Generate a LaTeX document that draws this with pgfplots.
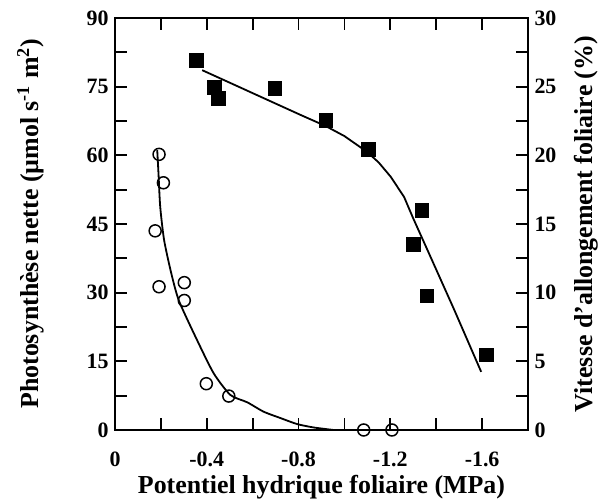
\documentclass[border=0pt]{standalone}
\usepackage{pgfplots}
\pgfplotsset{compat=1.18}
\usepackage{fontspec}
\setmainfont{Liberation Serif}
\usetikzlibrary{calc}
\begin{document}
\begin{tikzpicture}
\pgfplotsset{
 base/.style={scale only axis, width=413bp, height=412bp,
  xmin=-1.8, xmax=0, x dir=reverse,
  axis line style={line width=2.2bp},
  every tick/.style={line width=1.8bp, black},
  major tick length=12bp, minor tick length=12bp, tick align=inside,
  ticklabel style={font=\fontsize{22}{26}\selectfont\bfseries},
  label style={font=\fontsize{26}{30}\selectfont\bfseries},
  clip=false}
}
\begin{axis}[base,
  ymin=0, ymax=90,
  ytick={0,15,30,45,60,75,90}, yticklabels={0,15,30,45,60,75,90},
  minor ytick={7.5,22.5,37.5,52.5,67.5,82.5},
  xtick={0,-0.4,-0.8,-1.2,-1.6}, xticklabels={0,-0.4,-0.8,-1.2,-1.6},
  minor xtick={-0.2,-0.6,-1.0,-1.4},
  ytick pos=left, xtick pos=both,
  xticklabel style={anchor=center, yshift=-29bp},
  yticklabel style={xshift=-3bp},
  xlabel={Potentiel hydrique foliaire (MPa)},
  xlabel style={at={(axis description cs:0.5,-0.14)}, anchor=center},
  ylabel={Photosynthèse nette (µmol s\textsuperscript{-1} m\textsuperscript{2})},
  ylabel style={at={(axis description cs:-0.205,0.5)}, anchor=center, rotate=0},
]
\coordinate (sw) at (rel axis cs:0,0);
\coordinate (ne) at (rel axis cs:1,1);
\addplot[black, line width=1.8bp, mark=none] coordinates {
(-0.38,78.6) (-0.81,68.8) (-0.918,66.4) (-1.0,64.2) (-1.10,60.7) (-1.15,58.4) (-1.202,55.3) (-1.26,50.9) (-1.30,46.2) (-1.362,39.3) (-1.479,26.2) (-1.596,12.7)};
\addplot[only marks, mark=square*, mark size=6.7bp, black] coordinates {
(-0.354,80.8) (-0.433,74.9) (-0.450,72.5) (-0.695,74.7) (-0.918,67.7) (-1.103,61.3) (-1.338,48.0) (-1.30,40.6) (-1.358,29.3) (-1.617,16.5)};
\end{axis}
\begin{axis}[base,
  ymin=0, ymax=30,
  axis x line=none, axis y line*=right,
  ytick={0,5,10,15,20,25,30}, yticklabels={0,5,10,15,20,25,30},
  minor ytick={2.5,7.5,12.5,17.5,22.5,27.5},
  ytick pos=right,
  yticklabel style={xshift=3bp},
  ylabel={Vitesse d'allongement foliaire (\%)},
  ylabel style={at={(axis description cs:1.14,0.5)}, anchor=center, rotate=0},
]
\addplot[black, line width=1.8bp, mark=none, smooth, tension=0.4] coordinates {
(-0.184,20.4) (-0.1895,18.7) (-0.197,16.27) (-0.214,13.83) (-0.245,11.43) (-0.279,9.4) (-0.357,6.57) (-0.43,4.13) (-0.503,2.55) (-0.576,2.02) (-0.648,1.33) (-0.721,0.87) (-0.794,0.43) (-0.867,0.18) (-0.953,0)};
\addplot[only marks, mark=o, mark size=6bp, black, line width=1.5bp] coordinates {
(-0.192,20.07) (-0.211,18.0) (-0.175,14.5) (-0.192,10.43) (-0.302,10.73) (-0.302,9.43) (-0.398,3.37) (-0.496,2.47) (-1.084,0) (-1.207,0)};
\end{axis}
\pgfresetboundingbox
\path[use as bounding box] ($(sw)+(-115bp,-71bp)$) rectangle ($(ne)+(70bp,18bp)$);
\end{tikzpicture}
\end{document}
